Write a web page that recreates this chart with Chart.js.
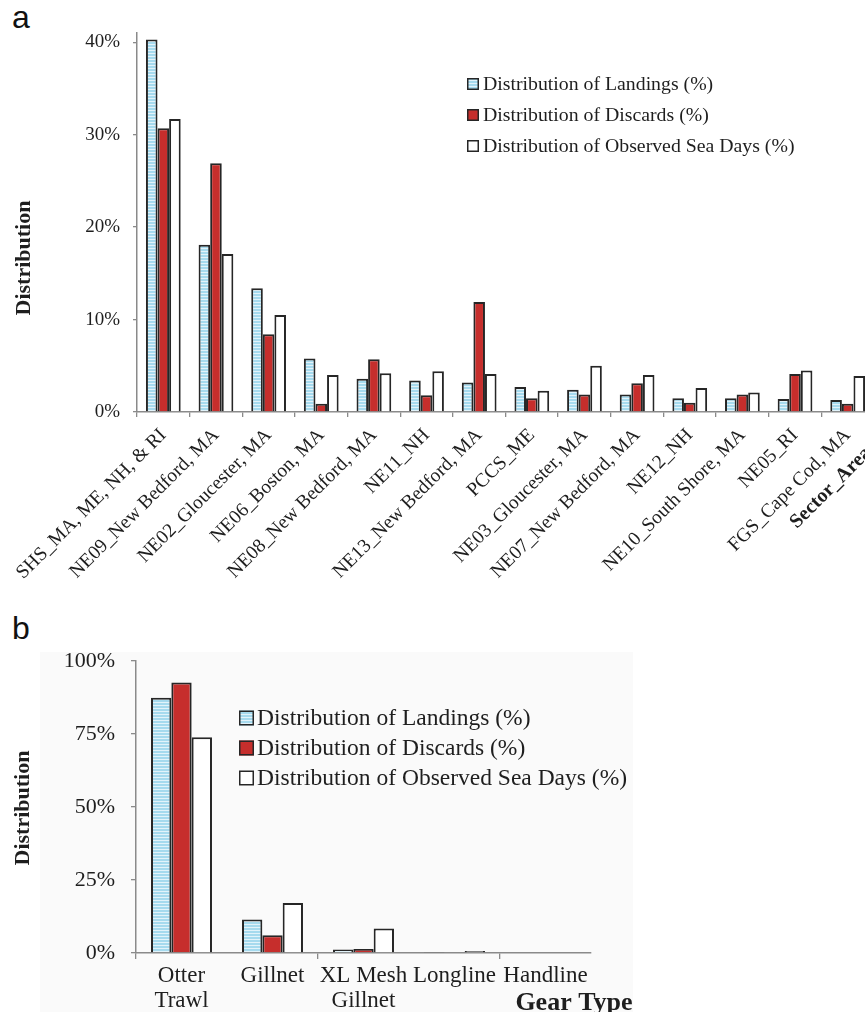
<!DOCTYPE html>
<html>
<head>
<meta charset="utf-8">
<script src="https://cdn.jsdelivr.net/npm/chart.js@4/dist/chart.umd.min.js"></script>
<style>
  html, body { margin: 0; padding: 0; width: 865px; height: 1012px; overflow: hidden; background: #fff; }
  .wrap { position: absolute; left: 0; }
  #wrapA { top: 0; width: 900px; height: 600px; }
  #wrapB { top: 610px; width: 865px; height: 402px; }
  .panelB { position: absolute; left: 40px; top: 652px; width: 593px; height: 360px; background: #fafafa; }
  .tag { position: absolute; font-family: "Liberation Sans", Arial, sans-serif; font-size: 32px; line-height: 32px; color: #111; }
</style>
</head>
<body>
<div class="panelB"></div>
<div class="tag" style="left:12px; top:1px;">a</div>
<div class="tag" style="left:12px; top:612px;">b</div>
<div class="wrap" id="wrapA"><canvas id="chartA" width="900" height="600"></canvas></div>
<div class="wrap" id="wrapB"><canvas id="chartB" width="865" height="402"></canvas></div>

<script>
// ---- Panel a: distribution by sector ----
const sectors = [
  'SHS_MA, ME, NH, & RI', 'NE09_New Bedford, MA', 'NE02_Gloucester, MA', 'NE06_Boston, MA',
  'NE08_New Bedford, MA', 'NE11_NH', 'NE13_New Bedford, MA', 'PCCS_ME', 'NE03_Gloucester, MA',
  'NE07_New Bedford, MA', 'NE12_NH', 'NE10_South Shore, MA', 'NE05_RI', 'FGS_Cape Cod, MA'
];
const sectorLandings = [40.3, 18.1, 13.4, 5.8, 3.6, 3.4, 3.2, 2.7, 2.4, 1.9, 1.5, 1.5, 1.4, 1.3];
const sectorDiscards = [30.7, 26.9, 8.4, 0.9, 5.7, 1.8, 11.9, 1.5, 1.9, 3.1, 1.0, 1.9, 4.1, 0.9];
const sectorSeaDays  = [31.7, 17.1, 10.5, 4.0, 4.2, 4.4, 4.1, 2.3, 5.0, 4.0, 2.6, 2.1, 4.5, 3.9];
const sectorTicks = [0, 10, 20, 30, 40];

// ---- Panel b: distribution by gear type ----
const gearTypes = [['Otter', 'Trawl'], 'Gillnet', ['XL Mesh', 'Gillnet'], 'Longline', 'Handline'];
const gearLandings = [87.4, 11.5, 1.2, 0.3, 0];
const gearDiscards = [92.6, 6.1, 1.4, 0, 0];
const gearSeaDays  = [73.9, 17.1, 8.4, 0.7, 0];
const gearTicks = [0, 25, 50, 75, 100];

const seriesNames = [
  'Distribution of Landings (%)',
  'Distribution of Discards (%)',
  'Distribution of Observed Sea Days (%)'
];

const SERIF = '"Liberation Serif", "Times New Roman", serif';
const INK = '#1e1e1e';
const AXIS = '#8a8a8a';
const EDGE = '#262626';
const RED = '#c62e2c';

// light blue fill with fine horizontal lines
function stripes() {
  const c = document.createElement('canvas');
  c.width = 4; c.height = 3;
  const g = c.getContext('2d');
  g.fillStyle = '#a6daee'; g.fillRect(0, 0, 4, 3);
  g.fillStyle = '#e2f3fa'; g.fillRect(0, 2, 4, 1);
  return g.createPattern(c, 'repeat');
}

function makeDatasets(l, d, s) {
  const common = { borderColor: EDGE, borderWidth: 2 };
  return [
    Object.assign({ label: seriesNames[0], data: l, backgroundColor: stripes() }, common),
    Object.assign({ label: seriesNames[1], data: d, backgroundColor: RED }, common),
    Object.assign({ label: seriesNames[2], data: s, backgroundColor: '#ffffff' }, common)
  ];
}

// legend drawn inside the plot, one row per dataset
const insetLegend = {
  id: 'insetLegend',
  afterDraw(chart, args, o) {
    const ctx = chart.ctx;
    ctx.save();
    ctx.font = o.font;
    ctx.textBaseline = 'middle';
    ctx.textAlign = 'left';
    chart.data.datasets.forEach((ds, i) => {
      const cy = o.y + i * o.row;
      const s = o.box;
      ctx.fillStyle = ds.backgroundColor;
      ctx.fillRect(o.x, cy - s / 2, s, s);
      ctx.lineWidth = 1.5;
      ctx.strokeStyle = EDGE;
      ctx.strokeRect(o.x + 0.75, cy - s / 2 + 0.75, s - 1.5, s - 1.5);
      ctx.fillStyle = INK;
      ctx.fillText(ds.label, o.x + s + o.gap, cy + 1);
    });
    ctx.restore();
  }
};

// free-standing axis titles
const axisTitles = {
  id: 'axisTitles',
  afterDraw(chart, args, o) {
    const ctx = chart.ctx;
    o.items.forEach(t => {
      ctx.save();
      ctx.translate(t.x, t.y);
      ctx.rotate(t.angle * Math.PI / 180);
      ctx.font = t.font;
      ctx.fillStyle = INK;
      ctx.textAlign = t.align;
      ctx.textBaseline = t.baseline;
      ctx.fillText(t.text, 0, 0);
      ctx.restore();
    });
  }
};

function fixWidth(w) {
  return function (scale) { scale.width = w; scale.paddingTop = 0; scale.paddingBottom = 0; };
}
function fixHeight(h) {
  return function (scale) { scale.height = h; scale.paddingLeft = 0; scale.paddingRight = 0; };
}

// ---------- chart a ----------
new Chart(document.getElementById('chartA'), {
  type: 'bar',
  data: { labels: sectors, datasets: makeDatasets(sectorLandings, sectorDiscards, sectorSeaDays) },
  plugins: [insetLegend, axisTitles],
  options: {
    responsive: false,
    animation: false,
    layout: { padding: { top: 33, right: 26, left: 0, bottom: 0 } },
    datasets: { bar: { categoryPercentage: 0.66, barPercentage: 1.0 } },
    plugins: {
      legend: { display: false },
      tooltip: { enabled: false },
      insetLegend: { x: 467, y: 84, row: 31, box: 12, gap: 4, font: '19.8px ' + SERIF },
      axisTitles: {
        items: [
          { text: 'Distribution', x: 24, y: 258, angle: -90, align: 'center', baseline: 'middle', font: 'bold 22px ' + SERIF },
          { text: 'Sector_Area', x: 797, y: 529, angle: -45, align: 'left', baseline: 'alphabetic', font: 'bold 20px ' + SERIF }
        ]
      }
    },
    scales: {
      x: {
        afterFit: fixHeight(188),
        border: { color: AXIS, width: 1.5 },
        grid: { drawOnChartArea: false, tickLength: 5, color: AXIS, lineWidth: 1.3 },
        ticks: { autoSkip: false, minRotation: 45, maxRotation: 45, padding: 7, color: INK, font: { family: SERIF, size: 19.5 } }
      },
      y: {
        min: 0,
        max: 41,
        afterFit: fixWidth(137),
        afterBuildTicks(scale) { scale.ticks = sectorTicks.map(v => ({ value: v })); },
        border: { color: AXIS, width: 1.5 },
        grid: { drawOnChartArea: false, tickLength: 4, color: AXIS, lineWidth: 1.3 },
        ticks: { padding: 13, color: INK, font: { family: SERIF, size: 19 }, callback: v => v + '%' }
      }
    }
  }
});

// ---------- chart b ----------
new Chart(document.getElementById('chartB'), {
  type: 'bar',
  data: { labels: gearTypes, datasets: makeDatasets(gearLandings, gearDiscards, gearSeaDays) },
  plugins: [insetLegend, axisTitles],
  options: {
    responsive: false,
    animation: false,
    layout: { padding: { top: 51, right: 274, left: 0, bottom: 0 } },
    datasets: { bar: { categoryPercentage: 0.67, barPercentage: 1.0 } },
    plugins: {
      legend: { display: false },
      tooltip: { enabled: false },
      insetLegend: { x: 239, y: 108, row: 30, box: 15, gap: 3, font: '23.5px ' + SERIF },
      axisTitles: {
        items: [
          { text: 'Distribution', x: 23, y: 198, angle: -90, align: 'center', baseline: 'middle', font: 'bold 22px ' + SERIF },
          { text: 'Gear Type', x: 574, y: 400, angle: 0, align: 'center', baseline: 'alphabetic', font: 'bold 26px ' + SERIF }
        ]
      }
    },
    scales: {
      x: {
        afterFit: fixHeight(59),
        border: { color: AXIS, width: 1.5 },
        grid: {
          drawOnChartArea: false, tickLength: 6, lineWidth: 1.3,
          tickColor: ctx => (ctx.index % 2 === 0 ? AXIS : 'rgba(0,0,0,0)')
        },
        ticks: { autoSkip: false, maxRotation: 0, padding: 4, color: INK, font: { family: SERIF, size: 23, lineHeight: 1.1 } }
      },
      y: {
        min: 0,
        max: 100,
        afterFit: fixWidth(136),
        afterBuildTicks(scale) { scale.ticks = gearTicks.map(v => ({ value: v })); },
        border: { color: AXIS, width: 1.5 },
        grid: { drawOnChartArea: false, tickLength: 5, color: AXIS, lineWidth: 1.3 },
        ticks: { padding: 16, color: INK, font: { family: SERIF, size: 22 }, callback: v => v + '%' }
      }
    }
  }
});
</script>
</body>
</html>
